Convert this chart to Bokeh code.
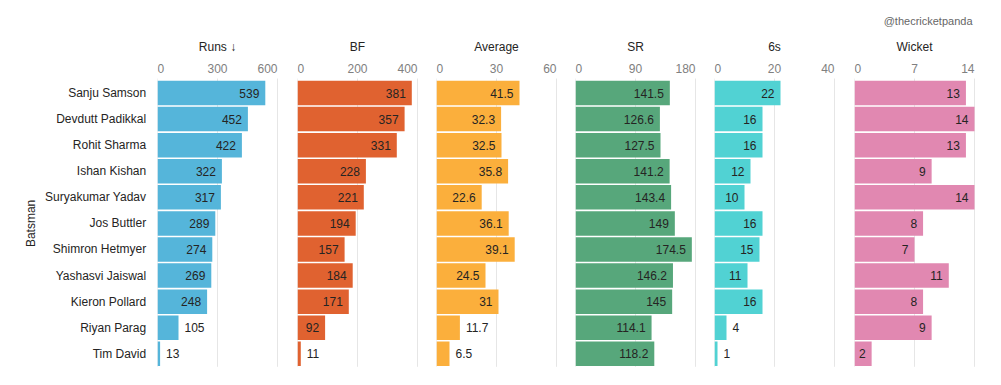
import math
from bokeh.plotting import figure
from bokeh.models import Range1d, ColumnDataSource
from bokeh.layouts import row
from bokeh.core.properties import value
from bokeh.embed import file_html
from bokeh.resources import INLINE

# ---------------- data ----------------
batsmen = ["Sanju Samson", "Devdutt Padikkal", "Rohit Sharma", "Ishan Kishan",
           "Suryakumar Yadav", "Jos Buttler", "Shimron Hetmyer", "Yashasvi Jaiswal",
           "Kieron Pollard", "Riyan Parag", "Tim David"]
runs = [539, 452, 422, 322, 317, 289, 274, 269, 248, 105, 13]
balls_faced = [381, 357, 331, 228, 221, 194, 157, 184, 171, 92, 11]
average = [41.5, 32.3, 32.5, 35.8, 22.6, 36.1, 39.1, 24.5, 31, 11.7, 6.5]
strike_rate = [141.5, 126.6, 127.5, 141.2, 143.4, 149, 174.5, 146.2, 145, 114.1, 118.2]
sixes = [22, 16, 16, 12, 10, 16, 15, 11, 16, 4, 1]
wickets = [13, 14, 13, 9, 14, 8, 7, 11, 8, 9, 2]

titles = ["Runs ↓", "BF", "Average", "SR", "6s", "Wicket"]
runs_ticks = [0, 300, 600]
bf_ticks = [0, 200, 400]
avg_ticks = [0, 30, 60]
sr_ticks = [0, 90, 180]
sixes_ticks = [0, 20, 40]
wicket_ticks = [0, 7, 14]
colors = ["#55B5DA", "#E06230", "#FBAF3C", "#57A77B", "#51D2D3", "#E188B1"]
y_title = "Batsman"
watermark = "@thecricketpanda"

series = [runs, balls_faced, average, strike_rate, sixes, wickets]
ticks_all = [runs_ticks, bf_ticks, avg_ticks, sr_ticks, sixes_ticks, wicket_ticks]

# ---------------- layout constants ----------------
FONT = value("Liberation Sans")
PAGE_LEFT = 0
PAGE_TOP = 0
FIG_H = 380
PITCH = 26.08            # px per row
ROW0_Y = 92.5            # page y of first row centre
Y_TOP = -(ROW0_Y - PAGE_TOP) / PITCH   # data y at the top of the frame
NAMES_W = 157 - PAGE_LEFT
PANEL_W = [140, 139, 139, 139, 140, 140]
FRAME_W = 120            # px used by each panel's value scale
DARK = "#252423"
TICK_C = "#808080"
GRID_C = "#E6E6E6"


def ypos(page_y):
    return (page_y - PAGE_TOP) / PITCH + Y_TOP


n = len(batsmen)
rows_idx = list(range(n))
y_range = Range1d(start=Y_TOP + FIG_H / PITCH, end=Y_TOP)

Y_TICKLAB = ypos(67.5)
Y_HEAD = ypos(46.5)
Y_WM = ypos(20.5)
GRID_TOP = ypos(78)
GRID_BOT = ypos(366.3)


def fmt(v):
    return f"{v:g}"


def text_w(s):
    return sum(3.34 if c == "." else 6.67 for c in s)


def base_fig(w, xr):
    p = figure(width=w, height=FIG_H, x_range=xr, y_range=y_range,
               x_axis_type=None, y_axis_type=None, toolbar_location=None,
               output_backend="svg", min_border=0, outline_line_color=None,
               background_fill_color="white", border_fill_color="white")
    p.grid.visible = False
    return p


figs = []

# names panel
pn = base_fig(NAMES_W, Range1d(PAGE_LEFT, 157))
pn.text(x=[145.7] * n, y=rows_idx, text=batsmen, text_align="right",
        text_baseline="middle", text_font=FONT, text_font_size="12px", text_color=DARK)
pn.text(x=[30], y=[(n - 1) / 2], text=[y_title], angle=math.pi / 2, text_align="center",
        text_baseline="middle", text_font=FONT, text_font_size="12px", text_color=DARK)
figs.append(pn)

panel_left = 157
for k in range(len(series)):
    vals = series[k]
    ticks = ticks_all[k]
    w = PANEL_W[k]
    vmax = ticks[-1]
    p = base_fig(w, Range1d(0, vmax * w / FRAME_W))

    # gridlines
    p.segment(x0=ticks, y0=[GRID_TOP] * len(ticks), x1=ticks, y1=[GRID_BOT] * len(ticks),
              line_color=GRID_C, line_width=1)

    # bars
    p.hbar(y=rows_idx, left=0, right=vals, height=0.94, fill_color=colors[k],
           line_color=None)

    # value labels
    px_per = FRAME_W / vmax
    ins = {"x": [], "y": [], "t": []}
    outs = {"x": [], "y": [], "t": []}
    for i, v in enumerate(vals):
        s = fmt(v)
        target = ins if v * px_per >= text_w(s) + 10 else outs
        target["x"].append(v)
        target["y"].append(i)
        target["t"].append(s)
    p.text(x="x", y="y", text="t", source=ColumnDataSource(ins), text_align="right",
           x_offset=-6, text_baseline="middle", text_font=FONT, text_font_size="12px",
           text_color=DARK)
    p.text(x="x", y="y", text="t", source=ColumnDataSource(outs), text_align="left",
           x_offset=6, text_baseline="middle", text_font=FONT, text_font_size="12px",
           text_color=DARK)

    # tick labels
    p.text(x=[ticks[0]], y=[Y_TICKLAB], text=[fmt(ticks[0])], text_align="left",
           text_baseline="middle", text_font=FONT, text_font_size="12px", text_color=TICK_C)
    p.text(x=ticks[1:-1], y=[Y_TICKLAB] * (len(ticks) - 2), text=[fmt(t) for t in ticks[1:-1]],
           text_align="center", text_baseline="middle", text_font=FONT,
           text_font_size="12px", text_color=TICK_C)
    p.text(x=[ticks[-1]], y=[Y_TICKLAB], text=[fmt(ticks[-1])], text_align="right",
           text_baseline="middle", text_font=FONT, text_font_size="12px", text_color=TICK_C)

    # header title
    p.text(x=[vmax / 2], y=[Y_HEAD], text=[titles[k]], text_align="center",
           text_baseline="middle", text_font=FONT, text_font_size="12px", text_color=DARK)

    if k == len(series) - 1:
        p.text(x=[(972 - panel_left) / FRAME_W * vmax], y=[Y_WM], text=[watermark],
               text_align="right", text_baseline="middle", text_font=FONT,
               text_font_size="11px", text_color="#666666")

    figs.append(p)
    panel_left += w

layout = row(*figs, spacing=0)
open("out.html", "w").write(file_html(layout, INLINE))
